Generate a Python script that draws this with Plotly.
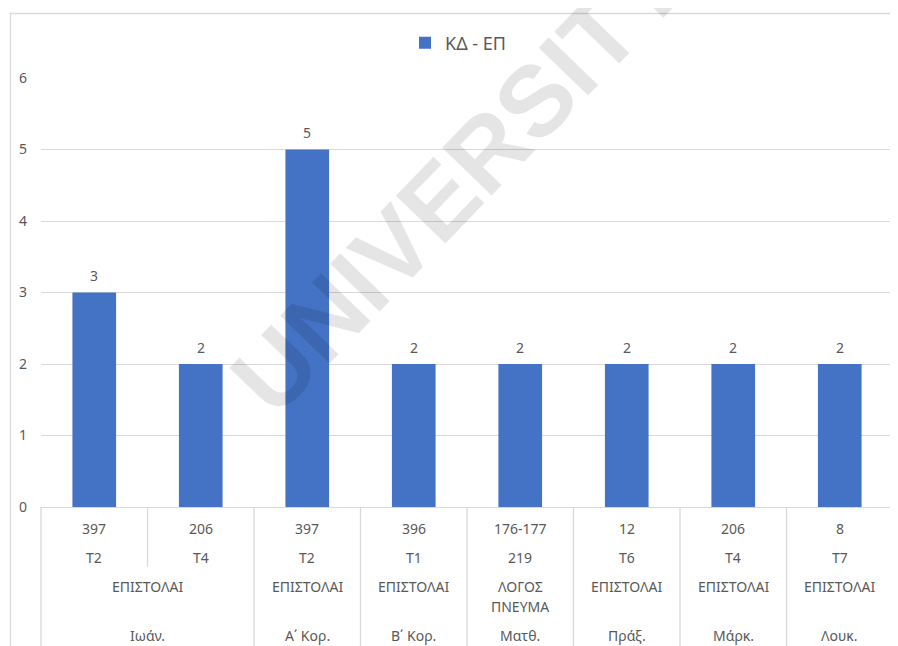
import plotly.graph_objects as go

# ---- data ----
series_name = "ΚΔ - ΕΠ"
values = [3, 2, 5, 2, 2, 2, 2, 2]
level0 = ["397", "206", "397", "396", "176-177", "12", "206", "8"]
level1 = ["T2", "T4", "T2", "T1", "219", "T6", "T4", "T7"]
level2 = ["ΕΠΙΣΤΟΛΑΙ", "ΕΠΙΣΤΟΛΑΙ", "ΕΠΙΣΤΟΛΑΙ", "ΕΠΙΣΤΟΛΑΙ", "ΛΟΓΟΣ\nΠΝΕΥΜΑ",
          "ΕΠΙΣΤΟΛΑΙ", "ΕΠΙΣΤΟΛΑΙ", "ΕΠΙΣΤΟΛΑΙ"]
level3 = ["Ιωάν.", "Ιωάν.", "Α΄ Κορ.", "Β΄ Κορ.", "Ματθ.", "Πράξ.", "Μάρκ.", "Λουκ."]
y_ticks = [0, 1, 2, 3, 4, 5, 6]

# ---- layout geometry (pixels) ----
OFF = 8                      # default page body margin
W, H = 898 - OFF, 646 - OFF
L, R, T, B = 41 - OFF, 5, 78 - OFF, 139
PW, PH = W - L - R, H - T - B
FONT = "Noto Sans"
TXT = "#595959"
GRID = "#d9d9d9"
BLUE = "#4472C4"

def px_x(ax):
    return (ax - OFF - L) / PW

def px_y(ay):
    return (T + PH - (ay - OFF)) / PH

n = len(values)
xs = list(range(n))

fig = go.Figure()
fig.add_trace(go.Bar(
    x=xs, y=values, name=series_name, marker_color=BLUE,
    marker_line_width=0, showlegend=True,
))

annotations = []
shapes = []

# data labels
for x, v in zip(xs, values):
    annotations.append(dict(x=x, y=v, xref="x", yref="y", text=str(v),
                            showarrow=False, yshift=17, yanchor="middle",
                            font=dict(family=FONT, size=14, color=TXT)))

# multi-level category labels
levels = [level0, level1, level2, level3]
row_offsets = [21, 50, 79, 128]   # px below axis
line_step = 20

def groups(labels, parents):
    out = []
    start = 0
    for i in range(1, len(labels) + 1):
        if i == len(labels) or labels[i] != labels[start] or any(p[i] != p[start] for p in parents):
            out.append((start, i - 1, labels[start]))
            start = i
    return out

for li, lab in enumerate(levels):
    parents = levels[li + 1:]
    if li < 2:
        grp = [(i, i, lab[i]) for i in range(n)]
    else:
        grp = groups(lab, parents)
    for a, b, text in grp:
        xc = (a + b) / 2
        for j, line in enumerate(text.split("\n")):
            annotations.append(dict(x=xc, y=0, xref="x", yref="paper", text=line,
                                    showarrow=False, yanchor="middle",
                                    yshift=-(row_offsets[li] + j * line_step),
                                    font=dict(family=FONT, size=14, color=TXT)))

# divider lines between categories
bottom = px_y(660)
short_bottom = px_y(567)
for k in range(n + 1):
    xp = k / n
    if k == 0 or k == n:
        y1 = bottom
    else:
        same_outer = (level3[k - 1] == level3[k]) and (level2[k - 1] == level2[k])
        y1 = short_bottom if same_outer else bottom
    shapes.append(dict(type="line", xref="paper", yref="paper", x0=xp, x1=xp,
                       y0=0, y1=y1, line=dict(color=GRID, width=1.3)))

# outer chart border
shapes.append(dict(type="rect", xref="paper", yref="paper",
                   x0=px_x(10.5), x1=px_x(920), y0=px_y(13.5), y1=px_y(670),
                   line=dict(color=GRID, width=1.3), fillcolor="rgba(0,0,0,0)", layer="below"))

# watermark
annotations.append(dict(x=px_x(458), y=px_y(180), xref="paper", yref="paper",
                        text="<b>UNIVERSITY</b>", showarrow=False, textangle=-46,
                        xanchor="center", yanchor="middle",
                        font=dict(family="Liberation Sans", size=100, color="rgba(0,0,0,0.1)")))

fig.update_layout(
    width=W, height=H,
    margin=dict(l=L, r=R, t=T, b=B, pad=0),
    paper_bgcolor="white", plot_bgcolor="white",
    bargap=0.59,
    font=dict(family=FONT, color=TXT),
    legend=dict(orientation="h", x=px_x(405), xanchor="left", y=px_y(43), yanchor="middle",
                font=dict(family=FONT, size=18, color=TXT), bgcolor="rgba(0,0,0,0)",
                itemwidth=30),
    xaxis=dict(range=[-0.5, n - 0.5], showticklabels=False, showgrid=False,
               zeroline=False, showline=True, linecolor=GRID, linewidth=1.3, ticks=""),
    yaxis=dict(range=[0, 6], tickvals=y_ticks, showgrid=True, gridcolor=GRID, gridwidth=1.3,
               zeroline=False, showline=False, ticks="", ticklabelstandoff=13,
               tickfont=dict(family=FONT, size=14, color=TXT)),
    annotations=annotations,
    shapes=shapes,
)

fig.write_html("out.html")
